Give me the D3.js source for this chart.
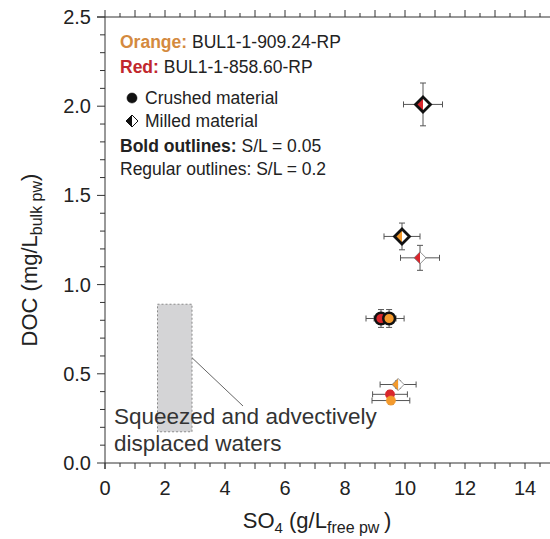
<!DOCTYPE html>
<html>
<head>
<meta charset="utf-8">
<script src="https://cdn.jsdelivr.net/npm/d3@7"></script>
<style>
  body { margin: 0; background: #fff; }
  svg { font-family: "Liberation Sans", Arial, sans-serif; }
</style>
</head>
<body>
<div id="chart"></div>
<script>
// data (SO4 in g/L free pw, DOC in mg/L bulk pw)
const sampleColor = ['red', 'orange', 'red', 'red', 'orange', 'orange', 'red', 'orange'];
const material    = ['milled', 'milled', 'milled', 'crushed', 'crushed', 'milled', 'crushed', 'crushed'];
const bold        = [true, true, false, true, true, false, false, false];
const so4         = [10.6, 9.9, 10.5, 9.2, 9.47, 9.77, 9.5, 9.53];
const so4Err      = [0.65, 0.6, 0.65, 0.5, 0.5, 0.6, 0.58, 0.63];
const doc         = [2.01, 1.27, 1.15, 0.81, 0.81, 0.44, 0.385, 0.35];
const docErr      = [0.12, 0.075, 0.07, 0.05, 0.05, 0.02, 0.02, 0.02];

const squeezedBox = {x0: 1.75, x1: 2.9, y0: 0.175, y1: 0.89};
const xTicks = [0, 2, 4, 6, 8, 10, 12, 14];
const yTicks = [0, 0.5, 1.0, 1.5, 2.0, 2.5];

const colors = {red: '#d9262c', orange: '#f49a2c'};

const width = 550, height = 539;
const svg = d3.select('#chart').append('svg')
  .attr('width', width)
  .attr('height', height);

const x = d3.scaleLinear().domain([0, 15]).range([105, 555]);
const y = d3.scaleLinear().domain([0, 2.5]).range([463, 17]);

const axisColor = '#333';

// squeezed waters box
svg.append('rect')
  .attr('x', x(squeezedBox.x0))
  .attr('y', y(squeezedBox.y1))
  .attr('width', x(squeezedBox.x1) - x(squeezedBox.x0))
  .attr('height', y(squeezedBox.y0) - y(squeezedBox.y1))
  .attr('fill', '#d4d4d6')
  .attr('stroke', '#8a8a8a')
  .attr('stroke-width', 1)
  .attr('stroke-dasharray', '2,2');

// leader line
svg.append('line')
  .attr('x1', x(squeezedBox.x1)).attr('y1', y(0.59))
  .attr('x2', 243).attr('y2', 406)
  .attr('stroke', '#666').attr('stroke-width', 1);

// annotation
const ann = svg.append('text')
  .attr('fill', '#333')
  .attr('font-size', 22.5);
ann.append('tspan').attr('x', 114).attr('y', 424).text('Squeezed and advectively');
ann.append('tspan').attr('x', 114).attr('y', 451).text('displaced waters');

// axes
const xMinor = d3.range(0, 15.01, 0.5);
const yMinor = d3.range(0, 2.501, 0.1);

// bottom axis
const gx = svg.append('g').attr('transform', `translate(0,${y(0)})`);
gx.append('line').attr('x1', x(0)).attr('x2', width).attr('stroke', axisColor);
gx.selectAll('line.tick').data(xMinor).join('line')
  .attr('class', 'tick')
  .attr('x1', d => x(d)).attr('x2', d => x(d))
  .attr('y1', 0).attr('y2', d => Math.abs(d - Math.round(d)) < 1e-6 ? 6 : 4)
  .attr('stroke', axisColor);
gx.selectAll('text').data(xTicks).join('text')
  .attr('x', d => x(d)).attr('y', 32)
  .attr('text-anchor', 'middle')
  .attr('font-size', 20)
  .attr('fill', '#222')
  .text(d => d);

// top axis
const gt = svg.append('g').attr('transform', `translate(0,${y(2.5)})`);
gt.append('line').attr('x1', x(0) - 8).attr('x2', width).attr('stroke', axisColor);
gt.selectAll('line.tick').data(xMinor).join('line')
  .attr('class', 'tick')
  .attr('x1', d => x(d)).attr('x2', d => x(d))
  .attr('y1', 0).attr('y2', d => Math.abs(d - Math.round(d)) < 1e-6 ? -7 : -4)
  .attr('stroke', axisColor);

// left axis
const gy = svg.append('g').attr('transform', `translate(${x(0)},0)`);
gy.append('line').attr('y1', y(2.5)).attr('y2', y(0) + 6).attr('stroke', axisColor);
gy.selectAll('line.tick').data(yMinor).join('line')
  .attr('class', 'tick')
  .attr('y1', d => y(d)).attr('y2', d => y(d))
  .attr('x1', 0).attr('x2', (d, i) => i % 5 === 0 ? -8 : -5)
  .attr('stroke', axisColor);
gy.selectAll('text').data(yTicks).join('text')
  .attr('x', -14).attr('y', d => y(d) + 7)
  .attr('text-anchor', 'end')
  .attr('font-size', 20)
  .attr('fill', '#222')
  .text(d => d.toFixed(1));

// axis titles
const xt = svg.append('text')
  .attr('x', 317).attr('y', 528)
  .attr('text-anchor', 'middle')
  .attr('font-size', 22)
  .attr('fill', '#222');
xt.append('tspan').text('SO');
xt.append('tspan').attr('font-size', 15).attr('dy', 5).text('4');
xt.append('tspan').attr('dy', -5).text(' (g/L');
xt.append('tspan').attr('font-size', 16).attr('dy', 5).text('free pw ');
xt.append('tspan').attr('dy', -5).text(')');

const yt = svg.append('text')
  .attr('transform', 'translate(37,260) rotate(-90)')
  .attr('text-anchor', 'middle')
  .attr('font-size', 22)
  .attr('fill', '#222');
yt.append('tspan').text('DOC (mg/L');
yt.append('tspan').attr('font-size', 16).attr('dy', 5).text('bulk pw');
yt.append('tspan').attr('dy', -5).text(')');

// points
const pts = so4.map((d, i) => ({
  x: d, y: doc[i], xe: so4Err[i], ye: docErr[i],
  c: colors[sampleColor[i]], m: material[i], b: bold[i]
}));

const errColor = '#555';
const cap = 3;
const eg = svg.append('g');
pts.forEach(p => {
  const g = eg.append('g').attr('stroke', errColor).attr('stroke-width', 1);
  const cx = x(p.x), cy = y(p.y);
  g.append('line').attr('x1', x(p.x - p.xe)).attr('x2', x(p.x + p.xe)).attr('y1', cy).attr('y2', cy);
  g.append('line').attr('x1', x(p.x - p.xe)).attr('x2', x(p.x - p.xe)).attr('y1', cy - cap).attr('y2', cy + cap);
  g.append('line').attr('x1', x(p.x + p.xe)).attr('x2', x(p.x + p.xe)).attr('y1', cy - cap).attr('y2', cy + cap);
  g.append('line').attr('x1', cx).attr('x2', cx).attr('y1', y(p.y - p.ye)).attr('y2', y(p.y + p.ye));
  g.append('line').attr('x1', cx - cap).attr('x2', cx + cap).attr('y1', y(p.y - p.ye)).attr('y2', y(p.y - p.ye));
  g.append('line').attr('x1', cx - cap).attr('x2', cx + cap).attr('y1', y(p.y + p.ye)).attr('y2', y(p.y + p.ye));
});

function drawMarker(g, cx, cy, m, fill, isBold, size) {
  const r = size;
  if (m === 'crushed') {
    g.append('circle')
      .attr('cx', cx).attr('cy', cy).attr('r', r * 0.78)
      .attr('fill', fill)
      .attr('stroke', isBold ? '#111' : fill)
      .attr('stroke-width', isBold ? 2.5 : 0.5);
  } else {
    g.append('path')
      .attr('d', `M${cx},${cy - r}L${cx},${cy + r}L${cx - r},${cy}Z`)
      .attr('fill', fill);
    g.append('path')
      .attr('d', `M${cx},${cy - r}L${cx + r},${cy}L${cx},${cy + r}Z`)
      .attr('fill', '#fff');
    g.append('path')
      .attr('d', `M${cx},${cy - r}L${cx + r},${cy}L${cx},${cy + r}L${cx - r},${cy}Z`)
      .attr('fill', 'none')
      .attr('stroke', isBold ? '#111' : '#777')
      .attr('stroke-width', isBold ? 2.8 : 0.8);
  }
}

const mg = svg.append('g');
pts.forEach(p => {
  drawMarker(mg, x(p.x), y(p.y), p.m, p.c, p.b, p.b ? 7.5 : 6);
});

// legend
const lg = svg.append('g').attr('font-size', 17.5).attr('fill', '#222');
const l1 = lg.append('text').attr('x', 120).attr('y', 48);
l1.append('tspan').attr('font-weight', 'bold').attr('fill', '#d48a3e').text('Orange:');
l1.append('tspan').text(' BUL1-1-909.24-RP');
const l2 = lg.append('text').attr('x', 120).attr('y', 73);
l2.append('tspan').attr('font-weight', 'bold').attr('fill', '#c1272d').text('Red:');
l2.append('tspan').text(' BUL1-1-858.60-RP');

drawMarker(lg, 132, 98, 'crushed', '#111', false, 6.5);
lg.append('text').attr('x', 145).attr('y', 104).text('Crushed material');
drawMarker(lg, 132, 121, 'milled', '#111', false, 6);
lg.select('path:last-child').attr('stroke', '#111').attr('stroke-width', 1);
lg.append('text').attr('x', 145).attr('y', 127).text('Milled material');

const l3 = lg.append('text').attr('x', 120).attr('y', 152);
l3.append('tspan').attr('font-weight', 'bold').text('Bold outlines:');
l3.append('tspan').text(' S/L = 0.05');
lg.append('text').attr('x', 120).attr('y', 175).text('Regular outlines: S/L = 0.2');
</script>
</body>
</html>
